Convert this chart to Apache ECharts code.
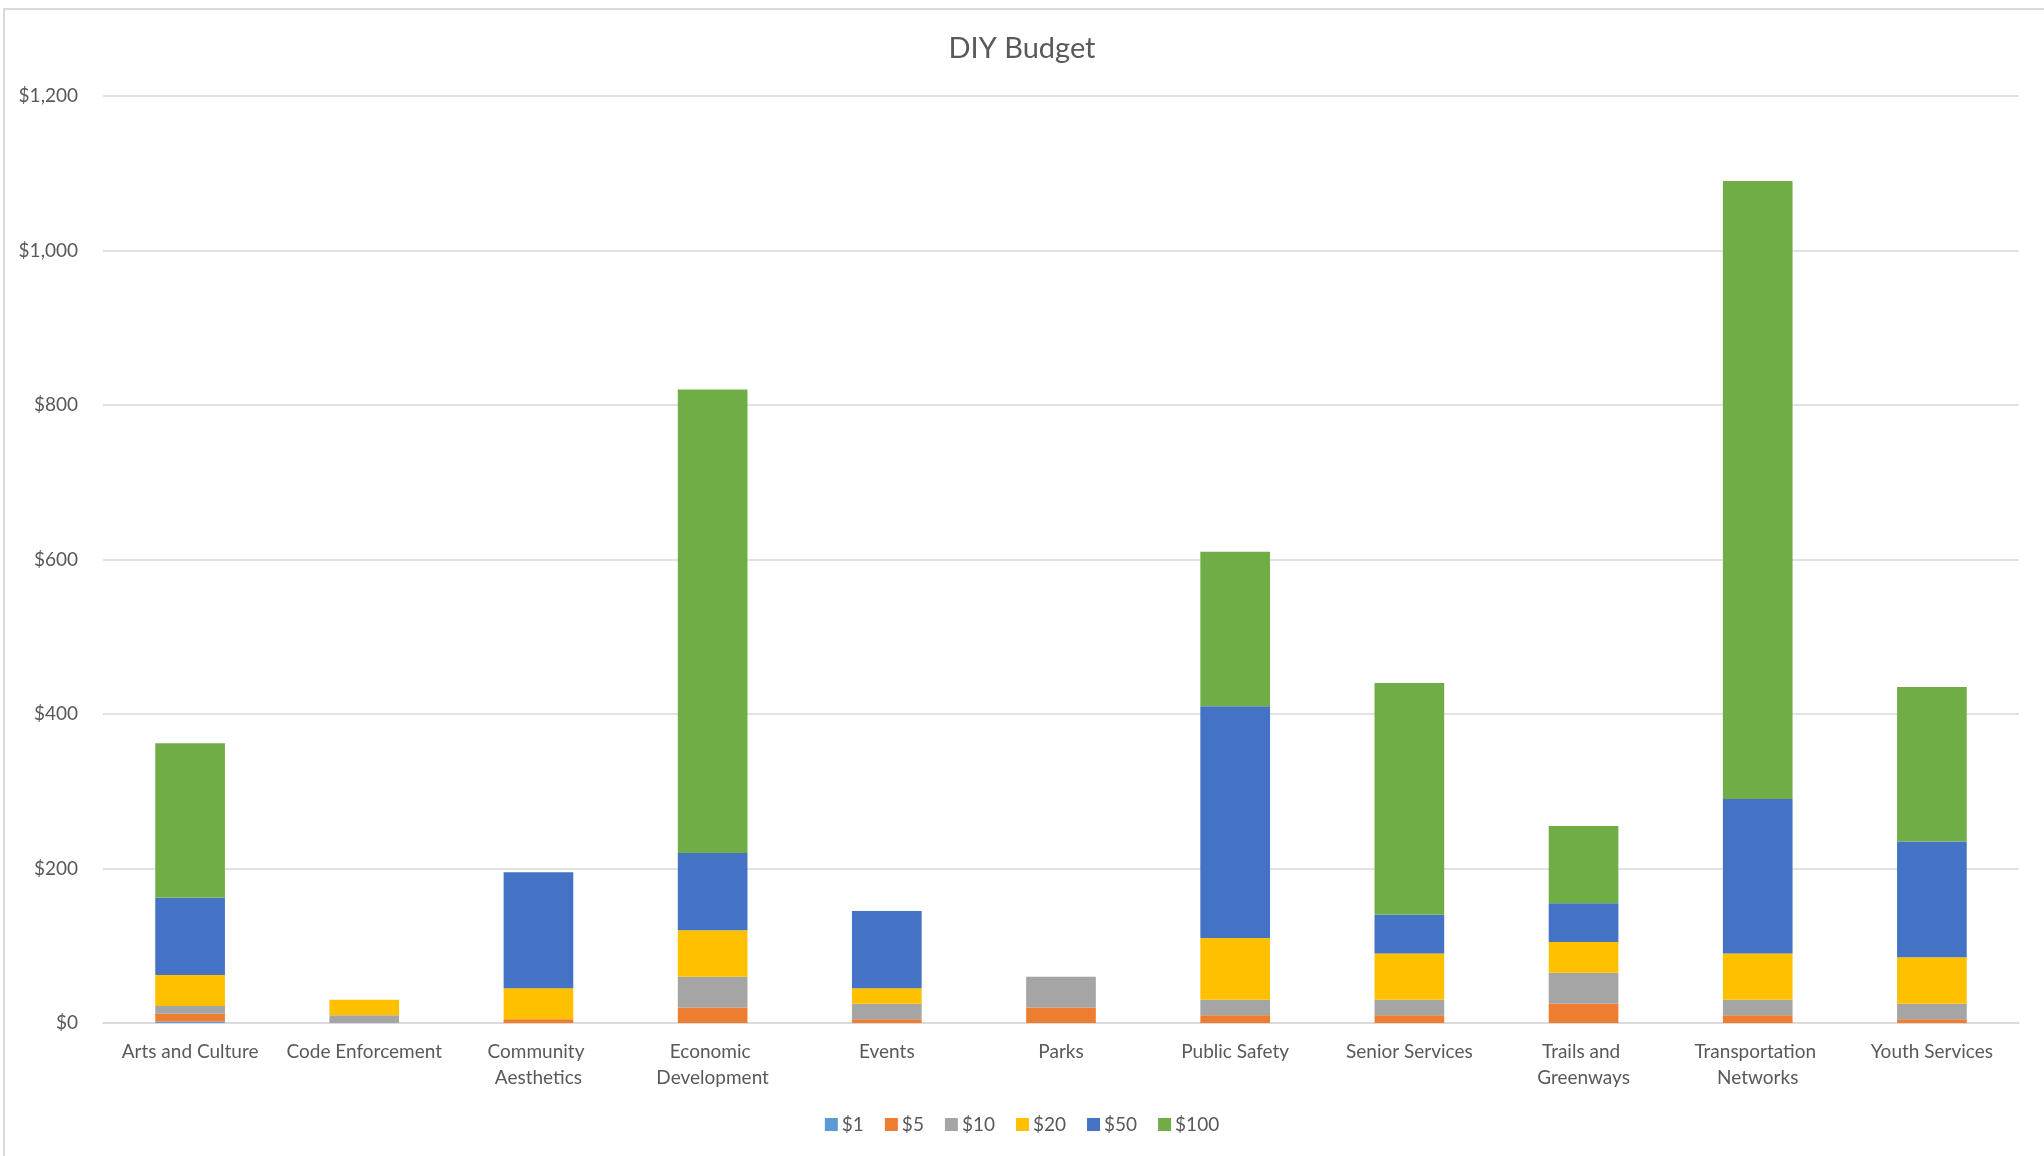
<!DOCTYPE html>
<html>
<head>
<meta charset="utf-8">
<script src="https://cdn.jsdelivr.net/npm/echarts@6/dist/echarts.min.js"></script>
<style>
html,body{margin:0;padding:0;background:#fff;}
#chart{width:2044px;height:1156px;}
</style>
</head>
<body>
<div id="chart"></div>
<script>
const categories = ["Arts and Culture","Code Enforcement","Community Aesthetics","Economic Development","Events","Parks","Public Safety","Senior Services","Trails and Greenways","Transportation Networks","Youth Services"];
const seriesNames = ["$1","$5","$10","$20","$50","$100"];
const v1   = [2,0,0,0,0,0,0,0,0,0,0];
const v5   = [10,0,5,20,5,20,10,10,25,10,5];
const v10  = [10,10,0,40,20,40,20,20,40,20,20];
const v20  = [40,20,40,60,20,0,80,60,40,60,60];
const v50  = [100,0,150,100,100,0,300,50,50,200,150];
const v100 = [200,0,0,600,0,0,200,300,100,800,200];
const colors = ["#5B9BD5","#ED7D31","#A5A5A5","#FFC000","#4472C4","#70AD47"];
const yTicks = {min:0, max:1200, interval:200};

const values = [v1,v5,v10,v20,v50,v100];
const FONT = "Lato";
const chart = echarts.init(document.getElementById('chart'));
chart.setOption({
  animation:false,
  color: colors,
  title:{text:"DIY Budget", left:'center', top:29,
    textStyle:{fontFamily:FONT, fontSize:29, fontWeight:'normal', color:'#595959'}},
  grid:{left:103, right:25, top:96, bottom:133, containLabel:false},
  legend:{bottom:17, left:'center', itemWidth:13, itemHeight:13, itemGap:21,
    icon:'rect',
    textStyle:{fontFamily:FONT, fontSize:19, color:'#595959', padding:[0,0,0,-1]},
    data: seriesNames},
  xAxis:{type:'category', data:categories,
    axisLine:{lineStyle:{color:'#D9D9D9', width:1.5}},
    axisTick:{show:false},
    axisLabel:{fontFamily:FONT, fontSize:19, color:'#595959', margin:16, interval:0,
      width:165, overflow:'break', lineHeight:26}},
  yAxis:{type:'value', min:yTicks.min, max:yTicks.max, interval:yTicks.interval,
    axisLine:{show:false}, axisTick:{show:false},
    splitLine:{lineStyle:{color:'#D9D9D9', width:1.5}},
    axisLabel:{fontFamily:FONT, fontSize:19, color:'#595959', margin:25,
      formatter:v=>'$'+v.toLocaleString('en-US')}},
  graphic:[{type:'rect', shape:{x:4, y:9, width:2100, height:1200},
    style:{fill:'none', stroke:'#D9D9D9', lineWidth:2}, silent:true, z:-1}],
  series: seriesNames.map((n,i)=>({name:n, type:'bar', stack:'total', barWidth:'40%',
    data: values[i]}))
});
</script>
</body>
</html>
